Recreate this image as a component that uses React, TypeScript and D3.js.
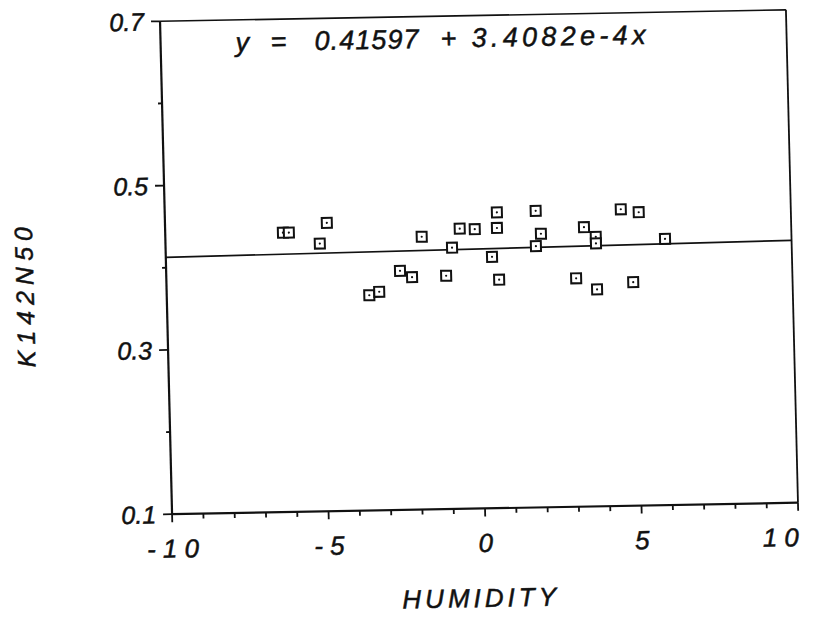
import React from "react";
import * as d3 from "d3";

// Data
const humidity = [
  -6.24, -6.05, -5.07, -4.83, -3.53, -3.21, -2.53, -2.15, -1.81, -1.06,
  -0.85, -0.59, -0.11, 0.42, 0.61, 0.6, 0.63, 1.85, 2.0, 1.83,
  3.09, 3.38, 3.75, 3.75, 3.75, 4.57, 5.14, 4.91, 5.96,
];
const k142n50 = [
  0.44, 0.44, 0.426, 0.451, 0.362, 0.366, 0.391, 0.383, 0.432, 0.384,
  0.418, 0.441, 0.44, 0.406, 0.46, 0.441, 0.378, 0.461, 0.433, 0.418,
  0.378, 0.44, 0.428, 0.42, 0.364, 0.461, 0.457, 0.372, 0.424,
];
const intercept = 0.41597;
const slope = 3.4082e-4;
const equationParts = ["y", "=", "0.41597", "+", "3.4082e-4x"];

const xTicks = d3.range(-10, 11, 1);
const xLabelValues = [-10, -5, 0, 5, 10];
const xLabels = ["- 1 0", "- 5", "0", "5", "1 0"];
const yTicks = [0.1, 0.2, 0.3, 0.4, 0.5, 0.6, 0.7];
const yLabelValues = [0.1, 0.3, 0.5, 0.7];
const yLabels = ["0.1", "0.3", "0.5", "0.7"];
const xTitle = "HUMIDITY";
const yTitle = "K142N50";

const W = 823;
const H = 619;
const left = 166;
const right = 792;
const top = 15.5;
const bottom = 508.5;
const cx = 479;
const cy = 262;

const font = "'Liberation Sans', Arial, Helvetica, sans-serif";

// layout of the equation pieces (start x, fitted width; 0 = natural)
const eqX = [241, 276, 320, 446, 477];
const eqW = [0, 0, 104, 0, 174];

export default function App() {
  const x = d3.scaleLinear().domain([-10, 10]).range([left, right]);
  const y = d3.scaleLinear().domain([0.1, 0.7]).range([bottom, top]);
  const line = d3
    .line<number>()
    .x((d) => x(d))
    .y((d) => y(intercept + slope * d));
  const sq = 10;
  const txt = { stroke: "#111", strokeWidth: 0.5 };

  return (
    <svg
      width={W}
      height={H}
      style={{ position: "absolute", left: 0, top: 0, display: "block", background: "#fff" }}
    >
      <rect x={0} y={0} width={W} height={H} fill="#fff" />
      <g
        transform={`translate(${cx},${cy}) rotate(-1.05) skewX(0.35) translate(${-cx},${-cy})`}
        fontFamily={font}
        fontStyle="italic"
        fill="#111"
      >
        {/* frame */}
        <line x1={left} x2={right} y1={top} y2={top} stroke="#111" strokeWidth={1.6} />
        <line x1={right} x2={right} y1={top} y2={bottom} stroke="#111" strokeWidth={1.8} />
        <line x1={left} x2={left} y1={top} y2={bottom} stroke="#111" strokeWidth={2.2} />
        <line x1={left} x2={right} y1={bottom} y2={bottom} stroke="#111" strokeWidth={2.2} />

        {/* x ticks */}
        {xTicks.map((t) => (
          <line
            key={"xt" + t}
            x1={x(t)}
            x2={x(t)}
            y1={bottom}
            y2={bottom + (t % 5 === 0 ? 8 : 5)}
            stroke="#111"
            strokeWidth={1.8}
          />
        ))}
        {/* y ticks */}
        {yTicks.map((t, i) => (
          <line
            key={"yt" + t}
            x1={left}
            x2={left - (i % 2 === 0 ? 9 : 4)}
            y1={y(t)}
            y2={y(t)}
            stroke="#111"
            strokeWidth={1.8}
          />
        ))}

        {/* tick labels */}
        {xLabelValues.map((v, i) => (
          <text
            key={"xl" + v}
            x={x(v)}
            y={552}
            fontSize={26}
            textAnchor={i === xLabelValues.length - 1 ? "end" : "middle"}
            style={{ whiteSpace: "pre" }}
            {...txt}
          >
            {xLabels[i]}
          </text>
        ))}
        {yLabelValues.map((v, i) => (
          <text
            key={"yl" + v}
            x={150}
            y={y(v)}
            fontSize={25}
            textAnchor="end"
            dominantBaseline="central"
            {...txt}
          >
            {yLabels[i]}
          </text>
        ))}

        {/* axis titles */}
        <text x={473} y={607} fontSize={26} textAnchor="middle" letterSpacing={4} {...txt}>
          {xTitle}
        </text>
        <text
          transform="translate(33,286) rotate(-90)"
          fontSize={25}
          textAnchor="middle"
          letterSpacing={6}
          {...txt}
        >
          {yTitle}
        </text>

        {/* equation */}
        {equationParts.map((p, i) => (
          <text
            key={"eq" + i}
            x={eqX[i]}
            y={47}
            fontSize={27}
            {...(eqW[i] > 0 ? { textLength: eqW[i], lengthAdjust: "spacing" } : {})}
            {...txt}
          >
            {p}
          </text>
        ))}

        {/* regression line */}
        <path d={line([-10, 10]) || ""} fill="none" stroke="#111" strokeWidth={1.7} />

        {/* points */}
        {humidity.map((h, i) => (
          <g key={"p" + i}>
            <rect
              x={x(h) - sq / 2}
              y={y(k142n50[i]) - sq / 2}
              width={sq}
              height={sq}
              fill="#fff"
              stroke="#111"
              strokeWidth={2}
            />
            <circle cx={x(h)} cy={y(k142n50[i])} r={1.1} fill="#111" />
          </g>
        ))}
      </g>
    </svg>
  );
}
